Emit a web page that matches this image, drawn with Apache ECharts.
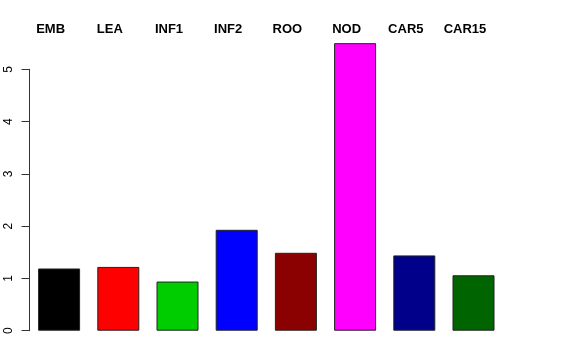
<!DOCTYPE html>
<html>
<head>
<meta charset="utf-8">
<script src="https://cdn.jsdelivr.net/npm/echarts@6/dist/echarts.min.js"></script>
<style>
html,body{margin:0;padding:0;background:#fff;}
#chart{width:576px;height:360px;}
</style>
</head>
<body>
<div id="chart"></div>
<script>
var categories = ['EMB', 'LEA', 'INF1', 'INF2', 'ROO', 'NOD', 'CAR5', 'CAR15'];
var values = [1.19, 1.22, 0.94, 1.93, 1.49, 5.50, 1.44, 1.06];
var yTicks = [0, 1, 2, 3, 4, 5];
var barColors = ['#000000', '#FF0000', '#00CD00', '#0000FF', '#8B0000', '#FF00FF', '#00008B', '#006400'];

var chart = echarts.init(document.getElementById('chart'), null, {renderer: 'canvas'});
chart.setOption({
  animation: false,
  backgroundColor: '#ffffff',
  grid: {left: 29.5, width: 473.6, top: 69.3, bottom: 29.3, containLabel: false},
  xAxis: {
    type: 'category',
    position: 'top',
    data: categories,
    axisLine: {show: false},
    axisTick: {show: false},
    splitLine: {show: false},
    axisLabel: {
      interval: 0,
      margin: 33,
      color: '#000',
      fontFamily: 'Liberation Sans',
      fontWeight: 'bold',
      fontSize: 13,
      padding: [0, 17, 0, 0]
    }
  },
  yAxis: {
    type: 'value',
    min: yTicks[0],
    max: yTicks[yTicks.length - 1],
    interval: 1,
    splitLine: {show: false},
    axisLine: {show: true, lineStyle: {color: '#333', width: 1}},
    axisTick: {show: true, length: 8, lineStyle: {color: '#333', width: 1}},
    axisLabel: {
      rotate: 90,
      margin: 15,
      color: '#000',
      fontFamily: 'Liberation Sans',
      fontSize: 12
    }
  },
  series: [{
    type: 'bar',
    clip: false,
    barWidth: 42,
    data: values.map(function (v, i) {
      return {value: v, itemStyle: {color: barColors[i]}};
    }),
    itemStyle: {borderColor: '#222', borderWidth: 1}
  }]
});
</script>
</body>
</html>
